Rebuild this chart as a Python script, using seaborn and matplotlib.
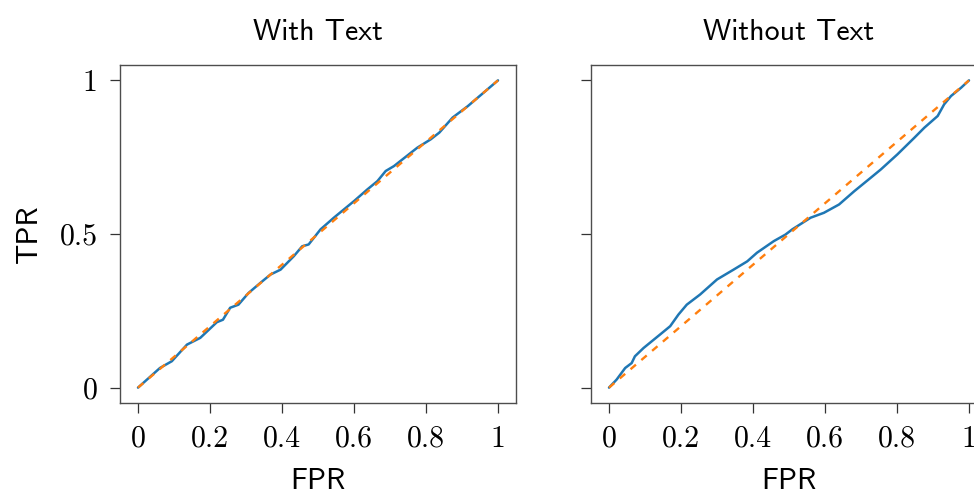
import matplotlib
matplotlib.use("Agg")
import matplotlib.pyplot as plt
import seaborn as sns
import pandas as pd

# ROC curve: "With Text"
fpr_with = [0.0, 0.061, 0.094, 0.136, 0.173, 0.219, 0.236, 0.256, 0.279, 0.307, 0.340,
            0.368, 0.396, 0.433, 0.456, 0.474, 0.507, 0.544, 0.600, 0.637, 0.665,
            0.688, 0.711, 0.776, 0.813, 0.837, 0.874, 0.916, 0.944, 1.0]
tpr_with = [0.0, 0.064, 0.086, 0.140, 0.162, 0.213, 0.221, 0.260, 0.270, 0.308, 0.341,
            0.368, 0.384, 0.428, 0.460, 0.466, 0.515, 0.553, 0.607, 0.645, 0.672,
            0.705, 0.721, 0.781, 0.808, 0.830, 0.879, 0.916, 0.944, 1.0]

# ROC curve: "Without Text"
fpr_without = [0.0, 0.021, 0.045, 0.063, 0.072, 0.096, 0.142, 0.170, 0.193, 0.216, 0.253,
               0.300, 0.346, 0.384, 0.411, 0.458, 0.490, 0.509, 0.560, 0.597, 0.639,
               0.681, 0.727, 0.755, 0.801, 0.848, 0.876, 0.913, 0.931, 0.950, 0.978, 1.0]
tpr_without = [0.0, 0.026, 0.064, 0.080, 0.102, 0.129, 0.173, 0.200, 0.238, 0.270, 0.303,
               0.352, 0.384, 0.411, 0.439, 0.477, 0.498, 0.515, 0.553, 0.569, 0.596,
               0.639, 0.683, 0.710, 0.759, 0.813, 0.846, 0.884, 0.922, 0.949, 0.976, 1.0]

# chance diagonal
diag = [0.0, 1.0]

titles = ["With Text", "Without Text"]
x_ticks = [0, 0.2, 0.4, 0.6, 0.8, 1]
x_tick_labels = ["0", "0.2", "0.4", "0.6", "0.8", "1"]
y_ticks = [0, 0.5, 1]
y_tick_labels = ["0", "0.5", "1"]

sns.set_theme(style="ticks")
plt.rcParams["axes.formatter.use_mathtext"] = True
plt.rcParams["text.color"] = "black"
plt.rcParams["axes.labelcolor"] = "black"
plt.rcParams["xtick.labelcolor"] = "black"
plt.rcParams["ytick.labelcolor"] = "black"

fig = plt.figure(figsize=(9.74, 4.9), dpi=100)
W, H = 974, 490
ax_w = (516 - 120) / W
ax_h = (403 - 65) / H
ax_b = (H - 403) / H
axes = [fig.add_axes([120 / W, ax_b, ax_w, ax_h]),
        fig.add_axes([591 / W, ax_b, ax_w, ax_h])]

curves = [(fpr_with, tpr_with), (fpr_without, tpr_without)]
blue = "#1f77b4"
orange = "#ff7f0e"

for i, (ax, (fx, ty)) in enumerate(zip(axes, curves)):
    df = pd.DataFrame({"FPR": fx, "TPR": ty})
    sns.lineplot(data=df, x="FPR", y="TPR", ax=ax, color=blue, lw=1.8,
                 sort=False, estimator=None)
    dd = pd.DataFrame({"x": diag, "y": diag})
    sns.lineplot(data=dd, x="x", y="y", ax=ax, color=orange, lw=1.7,
                 linestyle=(0, (3.0, 3.0)), sort=False, estimator=None)
    for s in ax.spines.values():
        s.set_color("0.3")
        s.set_linewidth(1.0)
        s.set_visible(True)
    ax.set_xlim(-0.05, 1.05)
    ax.set_ylim(-0.05, 1.05)
    ax.set_xticks(x_ticks)
    ax.set_xticklabels(x_tick_labels, fontfamily="cmr10", fontsize=21.5, color="black")
    ax.set_yticks(y_ticks)
    if i == 0:
        ax.set_yticklabels(y_tick_labels, fontfamily="cmr10", fontsize=21.5, color="black")
        ax.set_ylabel("TPR", fontfamily="cmss10", fontsize=21.5, labelpad=12, color="black")
    else:
        ax.set_yticklabels([])
        ax.set_ylabel("")
    ax.set_xlabel("FPR", fontfamily="cmss10", fontsize=21.5, labelpad=11, color="black")
    ax.set_title(titles[i], fontfamily="cmss10", fontsize=21.5, pad=18, color="black")
    ax.tick_params(axis="both", direction="out", length=7, width=0.9,
                   color="0.2", pad=9)

fig.savefig("out.png", dpi=100)
